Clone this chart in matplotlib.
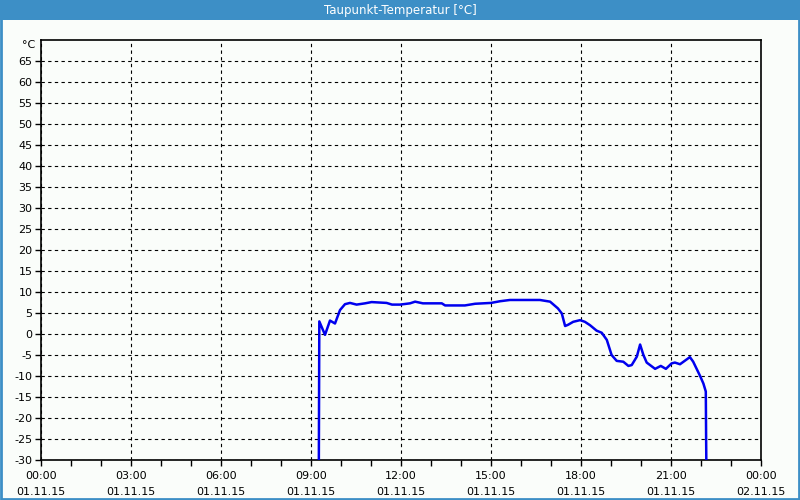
import numpy as np
import matplotlib.pyplot as plt
from matplotlib.patches import Rectangle
from matplotlib.ticker import MultipleLocator

# Taupunkt-Temperatur, time in hours since 01.11.15 00:00
hours = [9.257, 9.277, 9.467, 9.633, 9.8, 9.967, 10.133, 10.3, 10.52, 10.8,
         11.02, 11.52, 11.7, 11.97, 12.3, 12.47, 12.73, 13.36, 13.47, 14.13,
         14.47, 15.0, 15.3, 15.63, 16.63, 16.97, 17.23, 17.36, 17.47, 17.57,
         17.74, 17.97, 18.13, 18.3, 18.52, 18.69, 18.86, 19.02, 19.19, 19.41,
         19.58, 19.69, 19.86, 19.97, 20.08, 20.19, 20.47, 20.66, 20.83, 21.02,
         21.13, 21.3, 21.63, 21.74, 21.97, 22.08, 22.16, 22.17, 22.19]
dewpoint = [-40, 3.0, -0.2, 3.2, 2.5, 5.7, 7.1, 7.4, 7.0, 7.3,
            7.6, 7.4, 7.0, 7.0, 7.3, 7.7, 7.3, 7.3, 6.8, 6.8,
            7.2, 7.4, 7.8, 8.1, 8.1, 7.7, 6.1, 4.9, 1.9, 2.2,
            2.9, 3.3, 2.9, 2.1, 0.8, 0.3, -1.4, -5.0, -6.4, -6.6,
            -7.6, -7.4, -5.4, -2.5, -5.0, -6.8, -8.3, -7.6, -8.3, -7.0,
            -6.8, -7.2, -5.5, -6.6, -10.0, -11.8, -13.7, -24.4, -40]

x_ticks = [0, 3, 6, 9, 12, 15, 18, 21, 24]
x_labels = ['00:00\n01.11.15', '03:00\n01.11.15', '06:00\n01.11.15',
            '09:00\n01.11.15', '12:00\n01.11.15', '15:00\n01.11.15',
            '18:00\n01.11.15', '21:00\n01.11.15', '00:00\n02.11.15']
y_ticks = list(range(-30, 70, 5))

blue = '#3d8fc6'
bg = '#fafdfa'

fig = plt.figure(figsize=(8, 5), dpi=100, facecolor=bg)

# title bar + frame
fig.patches.append(Rectangle((0, 0.96), 1, 0.04, transform=fig.transFigure,
                             facecolor=blue, edgecolor='none', zorder=0))
fig.patches.append(Rectangle((0.001, 0.002), 0.998, 0.996, transform=fig.transFigure,
                             facecolor='none', edgecolor=blue, linewidth=2, zorder=0))
fig.text(0.5, 0.979, 'Taupunkt-Temperatur [°C]', color='white', ha='center',
         va='center', fontsize=8.5)

ax = fig.add_axes([0.05125, 0.08, 0.9, 0.84])
ax.set_facecolor(bg)
ax.plot(hours, dewpoint, color='#0000ee', linewidth=1.8, zorder=3)

ax.set_xlim(0, 24)
ax.set_ylim(-30, 70)
ax.set_xticks(x_ticks)
ax.set_xticklabels(x_labels, fontsize=8, linespacing=1.7)
ax.xaxis.set_minor_locator(MultipleLocator(1))
ax.set_yticks(y_ticks)
ax.set_yticklabels([str(v) for v in y_ticks], fontsize=8)
ax.tick_params(axis='both', which='both', direction='out', length=4, width=1,
               color='black', pad=2)
ax.tick_params(axis='x', which='major', pad=4)
ax.grid(True, which='major', color='black', linestyle=(0, (3, 3)), linewidth=0.8)
for s in ax.spines.values():
    s.set_color('black')
    s.set_linewidth(1.2)

ax.text(-0.008, 68.7, '°C', transform=ax.get_yaxis_transform(), ha='right',
        va='center', fontsize=8)

fig.savefig('out.png', dpi=100, facecolor=bg)
